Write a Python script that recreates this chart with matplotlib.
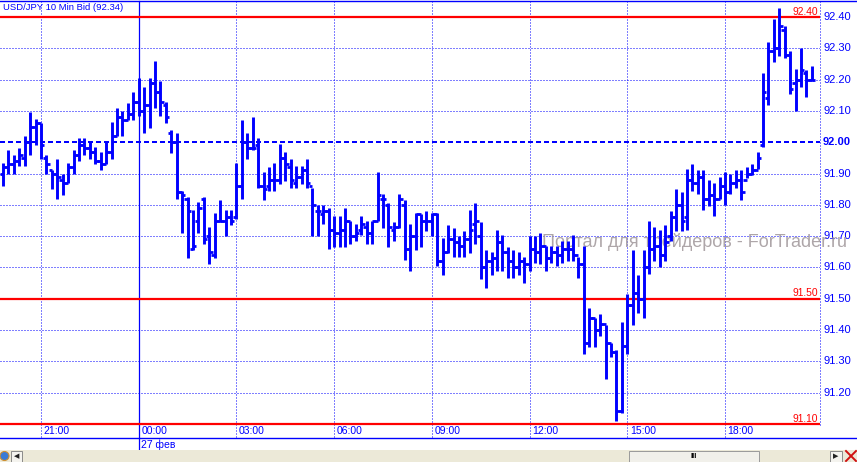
import numpy as np
import pandas as pd
import matplotlib
matplotlib.use("Agg")
import matplotlib.pyplot as plt
from matplotlib.patches import Rectangle, Circle

W, H = 857, 462
BLUE = '#0000ff'
RED = '#ff0000'

# ---- data: 10 min USD/JPY bid bars ----
start_time = '2010-02-26 19:50'
highs = [91.935, 91.975, 91.96, 91.98, 92.02, 92.095, 92.075, 92.06, 91.96, 91.91,
         91.945, 91.90, 91.935, 91.975, 92.015, 92.015, 92.00, 91.985, 91.97, 92.00,
         92.065, 92.11, 92.10, 92.125, 92.16, 92.205, 92.175, 92.205, 92.26, 92.195,
         92.13, 92.04, 92.03, 91.845, 91.825, 91.785, 91.81, 91.825, 91.73, 91.775,
         91.815, 91.785, 91.785, 91.935, 92.07, 92.03, 92.08, 92.015, 91.905, 91.92,
         91.935, 91.995, 91.97, 91.945, 91.925, 91.925, 91.945, 91.855, 91.80, 91.80,
         91.79, 91.765, 91.765, 91.79, 91.75, 91.74, 91.765, 91.75, 91.75, 91.905,
         91.835, 91.805, 91.745, 91.835, 91.815, 91.74, 91.775, 91.77, 91.78, 91.775,
         91.775, 91.695, 91.735, 91.725, 91.70, 91.715, 91.785, 91.805, 91.744, 91.655,
         91.65, 91.72, 91.705, 91.665, 91.655, 91.65, 91.635, 91.70, 91.70, 91.71,
         91.67, 91.67, 91.67, 91.685, 91.685, 91.705, 91.635, 91.67, 91.47, 91.44,
         91.45, 91.415, 91.36, 91.335, 91.425, 91.515, 91.655, 91.575, 91.655, 91.75,
         91.73, 91.72, 91.735, 91.78, 91.85, 91.84, 91.915, 91.93, 91.91, 91.91,
         91.88, 91.87, 91.89, 91.905, 91.90, 91.91, 91.91, 91.92, 91.93, 91.97,
         92.22, 92.32, 92.395, 92.43, 92.37, 92.29, 92.235, 92.30, 92.23, 92.245]
lows = [91.86, 91.90, 91.90, 91.925, 91.925, 91.96, 91.99, 91.945, 91.90, 91.85,
        91.82, 91.83, 91.87, 91.90, 91.94, 91.96, 91.945, 91.93, 91.91, 91.93,
        91.945, 92.02, 92.02, 92.07, 92.07, 92.085, 92.03, 92.045, 92.11, 92.085,
        92.06, 91.965, 91.82, 91.71, 91.63, 91.655, 91.71, 91.675, 91.61, 91.63,
        91.745, 91.70, 91.735, 91.755, 91.82, 91.945, 91.975, 91.855, 91.815, 91.845,
        91.845, 91.865, 91.875, 91.855, 91.855, 91.865, 91.855, 91.70, 91.70, 91.74,
        91.66, 91.665, 91.665, 91.665, 91.675, 91.685, 91.705, 91.675, 91.675, 91.75,
        91.725, 91.665, 91.685, 91.725, 91.625, 91.59, 91.655, 91.665, 91.715, 91.70,
        91.605, 91.575, 91.645, 91.635, 91.635, 91.635, 91.645, 91.675, 91.563, 91.535,
        91.575, 91.59, 91.59, 91.565, 91.565, 91.575, 91.55, 91.59, 91.615, 91.61,
        91.59, 91.615, 91.605, 91.615, 91.62, 91.62, 91.565, 91.325, 91.345, 91.345,
        91.38, 91.245, 91.315, 91.11, 91.135, 91.325, 91.415, 91.455, 91.44, 91.58,
        91.62, 91.60, 91.62, 91.685, 91.715, 91.715, 91.72, 91.845, 91.835, 91.785,
        91.795, 91.765, 91.82, 91.80, 91.835, 91.855, 91.815, 91.885, 91.895, 91.915,
        91.985, 92.12, 92.255, 92.275, 92.27, 92.155, 92.10, 92.175, 92.145, 92.195]
opens = [91.90, 91.92, 91.93, 91.94, 91.95, 92.00, 92.05, 92.06, 91.95, 91.91,
         91.90, 91.88, 91.87, 91.92, 91.96, 91.99, 91.98, 91.97, 91.94, 91.93,
         91.97, 92.02, 92.08, 92.07, 92.09, 92.13, 92.10, 92.12, 92.19, 92.16,
         92.12, 92.03, 92.00, 91.84, 91.82, 91.66, 91.75, 91.82, 91.70, 91.64,
         91.75, 91.75, 91.76, 91.76, 91.86, 92.00, 91.98, 91.99, 91.86, 91.86,
         91.88, 91.88, 91.95, 91.92, 91.87, 91.89, 91.91, 91.86, 91.78, 91.77,
         91.78, 91.72, 91.71, 91.72, 91.75, 91.70, 91.72, 91.73, 91.71, 91.75,
         91.82, 91.80, 91.72, 91.73, 91.80, 91.66, 91.70, 91.77, 91.75, 91.75,
         91.77, 91.62, 91.65, 91.69, 91.68, 91.67, 91.69, 91.74, 91.70, 91.60,
         91.62, 91.63, 91.68, 91.65, 91.62, 91.60, 91.62, 91.61, 91.66, 91.65,
         91.67, 91.63, 91.65, 91.64, 91.66, 91.66, 91.64, 91.61, 91.36, 91.44,
         91.40, 91.42, 91.36, 91.33, 91.14, 91.35, 91.48, 91.52, 91.50, 91.60,
         91.66, 91.67, 91.64, 91.70, 91.76, 91.80, 91.76, 91.88, 91.87, 91.89,
         91.82, 91.83, 91.82, 91.86, 91.84, 91.87, 91.88, 91.88, 91.90, 91.91,
         91.99, 92.14, 92.29, 92.30, 92.36, 92.28, 92.19, 92.20, 92.22, 92.20]
closes = [91.92, 91.93, 91.94, 91.96, 92.00, 92.05, 92.06, 91.99, 91.93, 91.90,
          91.89, 91.87, 91.92, 91.96, 91.99, 91.98, 91.97, 91.94, 91.93, 91.97,
          92.02, 92.08, 92.07, 92.09, 92.13, 92.10, 92.12, 92.19, 92.16, 92.13,
          92.08, 92.00, 91.84, 91.83, 91.78, 91.67, 91.79, 91.69, 91.65, 91.75,
          91.75, 91.76, 91.75, 91.86, 92.00, 91.98, 91.98, 91.86, 91.85, 91.88,
          91.88, 91.95, 91.93, 91.88, 91.89, 91.91, 91.87, 91.80, 91.78, 91.78,
          91.72, 91.71, 91.72, 91.75, 91.70, 91.71, 91.74, 91.71, 91.75, 91.83,
          91.82, 91.73, 91.73, 91.82, 91.66, 91.70, 91.77, 91.75, 91.75, 91.77,
          91.62, 91.65, 91.69, 91.68, 91.67, 91.69, 91.72, 91.75, 91.60, 91.62,
          91.63, 91.68, 91.65, 91.62, 91.60, 91.62, 91.61, 91.66, 91.65, 91.67,
          91.63, 91.65, 91.64, 91.66, 91.66, 91.64, 91.61, 91.36, 91.44, 91.40,
          91.42, 91.36, 91.33, 91.14, 91.35, 91.48, 91.52, 91.50, 91.60, 91.66,
          91.67, 91.64, 91.68, 91.76, 91.80, 91.75, 91.88, 91.87, 91.89, 91.82,
          91.83, 91.82, 91.86, 91.84, 91.87, 91.88, 91.84, 91.90, 91.91, 91.95,
          92.16, 92.29, 92.30, 92.37, 92.28, 92.17, 92.20, 92.23, 92.20, 92.20]

price_labels = [92.40, 92.30, 92.20, 92.10, 92.00, 91.90, 91.80, 91.70,
                91.60, 91.50, 91.40, 91.30, 91.20]
grid_prices = [92.30, 92.20, 92.10, 91.90, 91.80, 91.70, 91.60, 91.40, 91.30, 91.20]
level_lines = [92.40, 91.50, 91.10]
title = 'USD/JPY 10 Min Bid (92.34)'
watermark = 'Портал для трейдеров - ForTrader.ru'
date_label = '27 фев'

plt.rcParams['font.family'] = ['Liberation Sans', 'DejaVu Sans']

# layout in pixels (top-down): plot area x 0..820, y 3..426
PL, PR, PT, PB = 0, 820, 3, 426
X0, PITCH = 3.0, 5.4286          # pixel of first bar, pixels per bar
PX_PER_PRICE = 313.08


def ax_y(ypix):
    return (PB - ypix) / (PB - PT)


fig = plt.figure(figsize=(W / 100, H / 100), dpi=100, facecolor='white')
ax = fig.add_axes([PL / W, (H - PB) / H, (PR - PL) / W, (PB - PT) / H])
ax.set_facecolor('none')
ax.set_axis_off()
ax.set_ylim(92.40 - (PB - 17) / PX_PER_PRICE, 92.40 + (17 - PT) / PX_PER_PRICE)
ax.set_xlim((PL - X0) / PITCH, (PR - X0) / PITCH)

ov = fig.add_axes([0, 0, 1, 1])
ov.set_facecolor('none')
ov.set_axis_off()
ov.set_xlim(0, W)
ov.set_ylim(H, 0)

times = pd.date_range(start_time, periods=len(highs), freq='10min')
idx = np.arange(len(highs))

# grid
for p in grid_prices:
    ax.axhline(p, color=BLUE, lw=0.72, ls=(0, (1, 2)), zorder=1)
ax.axhline(92.00, color=BLUE, lw=1.44, ls=(0, (2.5, 1.5)), zorder=1)
for p in level_lines:
    ax.axhline(p, color=RED, lw=1.6, zorder=3)

# vertical time lines + labels
for i, t in zip(idx, times):
    if t.minute == 0 and t.hour % 3 == 0:
        if t.hour == 0:
            ax.axvline(i, ymin=ax_y(450), ymax=ax_y(0.5), color=BLUE, lw=0.9,
                       clip_on=False, zorder=1)
            ax.text(i + 2.5 / PITCH, ax_y(445), date_label, transform=ax.get_xaxis_transform(),
                    ha='left', va='center', fontsize=7.5, color=BLUE, clip_on=False)
        else:
            ax.axvline(i, ymin=ax_y(437), ymax=ax_y(0.5), color=BLUE, lw=0.72,
                       ls=(0, (1, 2)), clip_on=False, zorder=1)
        ax.text(i + 2.5 / PITCH, ax_y(431.5), t.strftime('%H:%M'),
                transform=ax.get_xaxis_transform(), ha='left', va='center',
                fontsize=7.5, color=BLUE, clip_on=False)

# bars
ax.vlines(idx, lows, highs, color=BLUE, lw=2.1, zorder=4)
ax.hlines(opens, idx - 0.6, idx, color=BLUE, lw=2.0, zorder=4)
ax.hlines(closes, idx, idx + 0.6, color=BLUE, lw=2.0, zorder=4)

# price axis labels
for p in price_labels:
    ax.text(1 + 3 / (PR - PL), p, f'{p:.2f}', transform=ax.get_yaxis_transform(),
            ha='left', va='center', fontsize=8, color=BLUE, clip_on=False,
            fontweight='bold' if p == 92.00 else 'normal')
for p in level_lines:
    ax.text(1 - 2 / (PR - PL), p + 0.5 / PX_PER_PRICE, f'{p:.2f}',
            transform=ax.get_yaxis_transform(), ha='right', va='bottom',
            fontsize=7.4, color=RED, clip_on=False, zorder=5)

# watermark
ax.text(542, 242, watermark, transform=ov.transData, ha='left', va='center',
        fontsize=13, color='#a0979a', alpha=0.85, zorder=3.5, clip_on=False)

# chrome
ov.plot([0, W], [0.5, 0.5], color=BLUE, lw=1.0)
ov.plot([PR, PR], [0.5, PB], color=BLUE, lw=0.72, ls=(0, (1, 2)))
ov.plot([0, W], [437.5, 437.5], color=BLUE, lw=1.0)
ov.text(3, 8, title, ha='left', va='center', fontsize=6.8, color=BLUE)

# scrollbar strip
ov.add_patch(Rectangle((0, 450), W, 12, fc='#ece9d8', ec='none'))
ov.add_patch(Circle((4.5, 456), 4.5, fc='#3a7bd5', ec='#d09030', lw=0.8))
ov.add_patch(Rectangle((11, 450.5), 11, 11, fc='#f4f3ee', ec='#8a8a8a', lw=0.7))
ov.text(16.5, 456, '◀', ha='center', va='center', fontsize=5, color='#202020',
        family='DejaVu Sans')
ov.add_patch(Rectangle((629, 450.5), 130, 11, fc='#f1f0ea', ec='#9a9a9a', lw=0.7))
ov.text(694, 456, 'III', ha='center', va='center', fontsize=5.5, fontweight='bold',
        color='#000000')
ov.add_patch(Rectangle((830, 450.5), 12, 11, fc='#f4f3ee', ec='#8a8a8a', lw=0.7))
ov.text(836, 456, '▶', ha='center', va='center', fontsize=5, color='#202020',
        family='DejaVu Sans')
ov.plot([846, 856], [451, 461], color='#d01010', lw=1.4)
ov.plot([846, 856], [461, 451], color='#d01010', lw=1.4)

fig.savefig('out.png', dpi=100)
